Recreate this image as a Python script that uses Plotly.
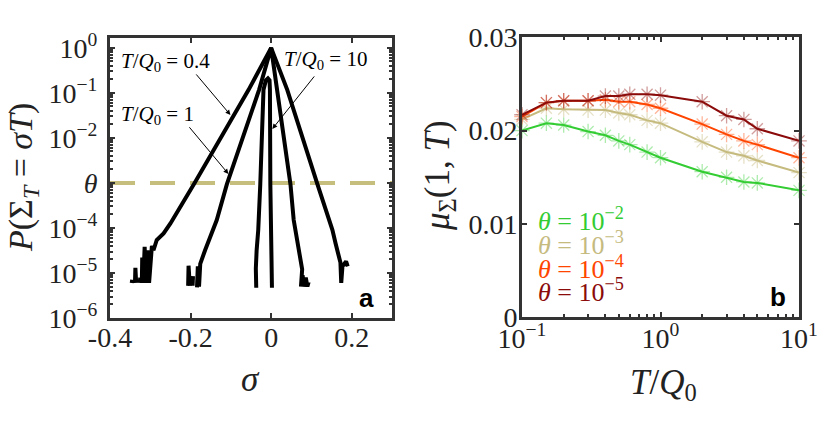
import plotly.graph_objects as go

W, H = 830, 429


def px(x):
    return x / W


def py(y):
    return 1 - y / H


# ---- panel a: P(Sigma_T = sigma T) ----
sigma_04 = [-0.346, -0.345, None, -0.338, -0.337, -0.335, None, -0.326, -0.325, None,
            -0.321, -0.320, -0.317, -0.314, -0.311, -0.307, -0.303, -0.300, -0.296, -0.292,
            -0.284, -0.267, -0.250, -0.190, -0.056, 0.0, 0.040, 0.115, 0.143, 0.152,
            0.160, 0.168, 0.172, 0.174, 0.177, 0.186, 0.190]
prob_04 = [6.0e-6, 7.1e-6, None, 6.0e-6, 1.3e-5, 6.0e-6, None, 6.0e-6, 7.9e-6, None,
           6.0e-6, 2.2e-5, 7.9e-6, 3.8e-5, 6.0e-6, 3.2e-5, 6.0e-6, 2.0e-5, 4.0e-5, 3.2e-5,
           5.4e-5, 7.6e-5, 1.26e-4, 1.0e-3, 0.117, 1.0, 0.117, 9.3e-4, 1.5e-4, 9.1e-5,
           4.5e-5, 2.5e-5, 1.7e-5, 6.0e-6, 1.4e-5, 1.8e-5, 1.4e-5]

sigma_1 = [-0.206, -0.205, -0.202, None, -0.195, -0.194, None, -0.184, -0.182, -0.179,
           -0.176, -0.164, -0.147, -0.135, -0.110, -0.030, 0.0, 0.015, 0.048, 0.056,
           0.060, 0.077, 0.074, 0.078, 0.082, 0.086, 0.090, 0.093]
prob_1 = [5.2e-6, 1.45e-5, 5.2e-6, None, 5.2e-6, 8.5e-6, None, 4.8e-6, 1.4e-5, 5.0e-6,
          1.6e-5, 3.2e-5, 7.6e-5, 1.5e-4, 9.3e-4, 0.117, 1.0, 0.117, 9.3e-4, 1.5e-4,
          9.1e-5, 1.2e-5, 5.0e-6, 8.9e-6, 5.0e-6, 7.9e-6, 5.0e-6, 6.3e-6]

sigma_10 = [-0.037, -0.038, -0.036, -0.032, -0.027, -0.019, -0.013, -0.008, -0.004,
            -0.003, -0.002, 0.0, 0.002]
prob_10 = [4.7e-6, 1.26e-5, 3.2e-5, 9.1e-5, 9.3e-4, 0.117, 0.19, 0.21, 0.19,
           0.117, 9.3e-4, 9.1e-5, 4.7e-6]

theta_level = 1e-3
sigma_range = [-0.4, 0.3]

# ---- panel b: mu_Sigma(1, T) vs T/Q0 ----
t_q0 = [0.1, 0.15, 0.2, 0.3, 0.4, 0.5, 0.6, 0.8, 1, 2, 3, 4, 5, 10]
mu_th2 = [0.0200, 0.0208, 0.0206, 0.0199, 0.0195, 0.0189, 0.0185, 0.0177, 0.0171,
          0.0156, 0.0150, 0.0145, 0.0144, 0.0136]
mu_th3 = [0.0212, 0.0224, 0.0223, 0.0222, 0.0222, 0.0219, 0.0217, 0.0211, 0.0208,
          0.0188, 0.0177, 0.0173, 0.0168, 0.0155]
mu_th4 = [0.0215, 0.0230, 0.0232, 0.0232, 0.0233, 0.0231, 0.0231, 0.0228, 0.0224,
          0.0207, 0.0196, 0.0189, 0.0185, 0.0171]
mu_th5 = [0.0217, 0.0230, 0.0232, 0.0232, 0.0237, 0.0237, 0.0239, 0.0239, 0.0238,
          0.0231, 0.0216, 0.0212, 0.0202, 0.0189]
theta_labels = ['10<sup>−2</sup>', '10<sup>−3</sup>', '10<sup>−4</sup>', '10<sup>−5</sup>']

series_colors = ['rgb(51,204,51)', 'rgb(198,187,127)', 'rgb(255,69,0)', 'rgb(139,10,10)']
marker_colors = ['rgba(51,204,51,0.4)', 'rgba(198,187,127,0.45)',
                 'rgba(255,69,0,0.4)', 'rgba(139,10,10,0.4)']

SERIF = 'Liberation Serif'
FRAME = '#333333'

fig = go.Figure()

fig.add_trace(go.Scatter(x=sigma_range, y=[theta_level, theta_level], mode='lines',
                         line=dict(color='rgb(198,190,125)', width=4, dash='25px,15px'),
                         xaxis='x', yaxis='y', hoverinfo='skip'))
for s, p in [(sigma_04, prob_04), (sigma_1, prob_1), (sigma_10, prob_10)]:
    fig.add_trace(go.Scatter(x=s, y=p, mode='lines',
                             line=dict(color='black', width=4),
                             connectgaps=False, xaxis='x', yaxis='y'))

for mu, c, mc in zip([mu_th2, mu_th3, mu_th4, mu_th5], series_colors, marker_colors):
    fig.add_trace(go.Scatter(x=t_q0, y=mu, mode='markers',
                             marker=dict(symbol='asterisk-open', size=13, color=mc,
                                         line=dict(width=1.3, color=mc)),
                             cliponaxis=False, xaxis='x2', yaxis='y2'))
    fig.add_trace(go.Scatter(x=t_q0, y=mu, mode='lines', line=dict(color=c, width=2),
                             xaxis='x2', yaxis='y2'))

tickfont = dict(family=SERIF, size=28, color='#222')
axis_common = dict(showline=True, linewidth=3, linecolor=FRAME, mirror='allticks',
                   ticks='inside', ticklen=5, tickwidth=2, tickcolor=FRAME,
                   showgrid=False, zeroline=False, tickfont=tickfont, automargin=False)
minor_log = dict(ticks='inside', ticklen=3, tickwidth=1.5, tickcolor=FRAME,
                 dtick='D1', showgrid=False)

fig.update_layout(
    width=W, height=H, margin=dict(l=0, r=0, t=0, b=0),
    plot_bgcolor='white', paper_bgcolor='white', showlegend=False,
    xaxis=dict(domain=[px(110), px(392)], range=sigma_range, anchor='y',
               tickvals=[-0.4, -0.2, 0, 0.2], ticktext=['-0.4', '-0.2', '0', '0.2'],
               ticklabelstandoff=-8, **axis_common),
    yaxis=dict(domain=[py(318), py(38)], type='log', range=[-6, 0.22], anchor='x',
               tickvals=[1e-6, 1e-5, 1e-4, 1e-3, 1e-2, 1e-1, 1],
               ticktext=['10<sup>−6</sup>', '10<sup>−5</sup>', '10<sup>−4</sup>', '<i>θ</i>',
                         '10<sup>−2</sup>', '10<sup>−1</sup>', '10<sup>0</sup>'],
               minor=minor_log, ticklabelstandoff=4, **axis_common),
    xaxis2=dict(domain=[px(522), px(799)], type='log', range=[-1, 1], anchor='y2',
                tickvals=[0.1, 1, 10],
                ticktext=['10<sup>−1</sup>', '10<sup>0</sup>', '10<sup>1</sup>'],
                ticklabelstandoff=-6, minor=minor_log, **axis_common),
    yaxis2=dict(domain=[py(317.3), py(37.3)], range=[0, 0.03], anchor='x2',
                tickvals=[0, 0.01, 0.02, 0.03], ticktext=['0', '0.01', '0.02', '0.03'],
                ticklabelstandoff=-4, **axis_common),
)

ann = []
titlefont = dict(family=SERIF, size=35, color='#222')
ann.append(dict(text='<i>σ</i>', x=px(250), y=py(379), font=titlefont))
ann.append(dict(text='<i>T</i>/<i>Q</i><sub>0</sub>', x=px(663), y=py(384), font=titlefont))
ann.append(dict(text='<i>P</i>(Σ<sub><i>T</i></sub> = <i>σT</i>)', x=px(23), y=py(178),
                textangle=-90, font=dict(family=SERIF, size=34, color='#222')))
ann.append(dict(text='<i>μ</i><sub>Σ</sub>(1, <i>T</i>)', x=px(439), y=py(176),
                textangle=-90, font=titlefont))

# curve labels with arrows in panel a
labelfont = dict(family=SERIF, size=21, color='black')
ann.append(dict(text='<i>T</i>/<i>Q</i><sub>0</sub> = 0.4', x=px(119), y=py(62),
                xanchor='left', font=labelfont))
ann.append(dict(text='<i>T</i>/<i>Q</i><sub>0</sub> = 1', x=px(119), y=py(115),
                xanchor='left', font=labelfont))
ann.append(dict(text='<i>T</i>/<i>Q</i><sub>0</sub> = 10', x=px(282), y=py(60),
                xanchor='left', font=labelfont))
for head, tail in [((-0.101, -1.49), (-0.189, -0.556)),
                   ((-0.106, -2.80), (-0.206, -1.73)),
                   ((0.003, -1.80), (0.110, -0.60))]:
    ann.append(dict(text='', x=head[0], y=head[1], ax=tail[0], ay=tail[1],
                    xref='x', yref='y', axref='x', ayref='y', showarrow=True,
                    arrowhead=2, arrowsize=1, arrowwidth=1, arrowcolor='black'))

# theta legend in panel b
for i, (lab, c) in enumerate(zip(theta_labels, series_colors)):
    ann.append(dict(text='<i>θ</i> = ' + lab, x=px(536), y=py(220 + 23.5 * i),
                    xanchor='left', font=dict(family=SERIF, size=26, color=c)))

panelfont = dict(family='Liberation Sans', size=26, color='black')
ann.append(dict(text='<b>a</b>', x=px(366), y=py(298), font=panelfont))
ann.append(dict(text='<b>b</b>', x=px(778), y=py(297), font=panelfont))

for a in ann:
    a.setdefault('xref', 'paper')
    a.setdefault('yref', 'paper')
    a.setdefault('xanchor', 'center')
    a.setdefault('yanchor', 'middle')
    a.setdefault('showarrow', False)
fig.update_layout(annotations=ann)

fig.write_html("out.html", config={'displayModeBar': False},
               post_script="document.body.style.margin='0';")
